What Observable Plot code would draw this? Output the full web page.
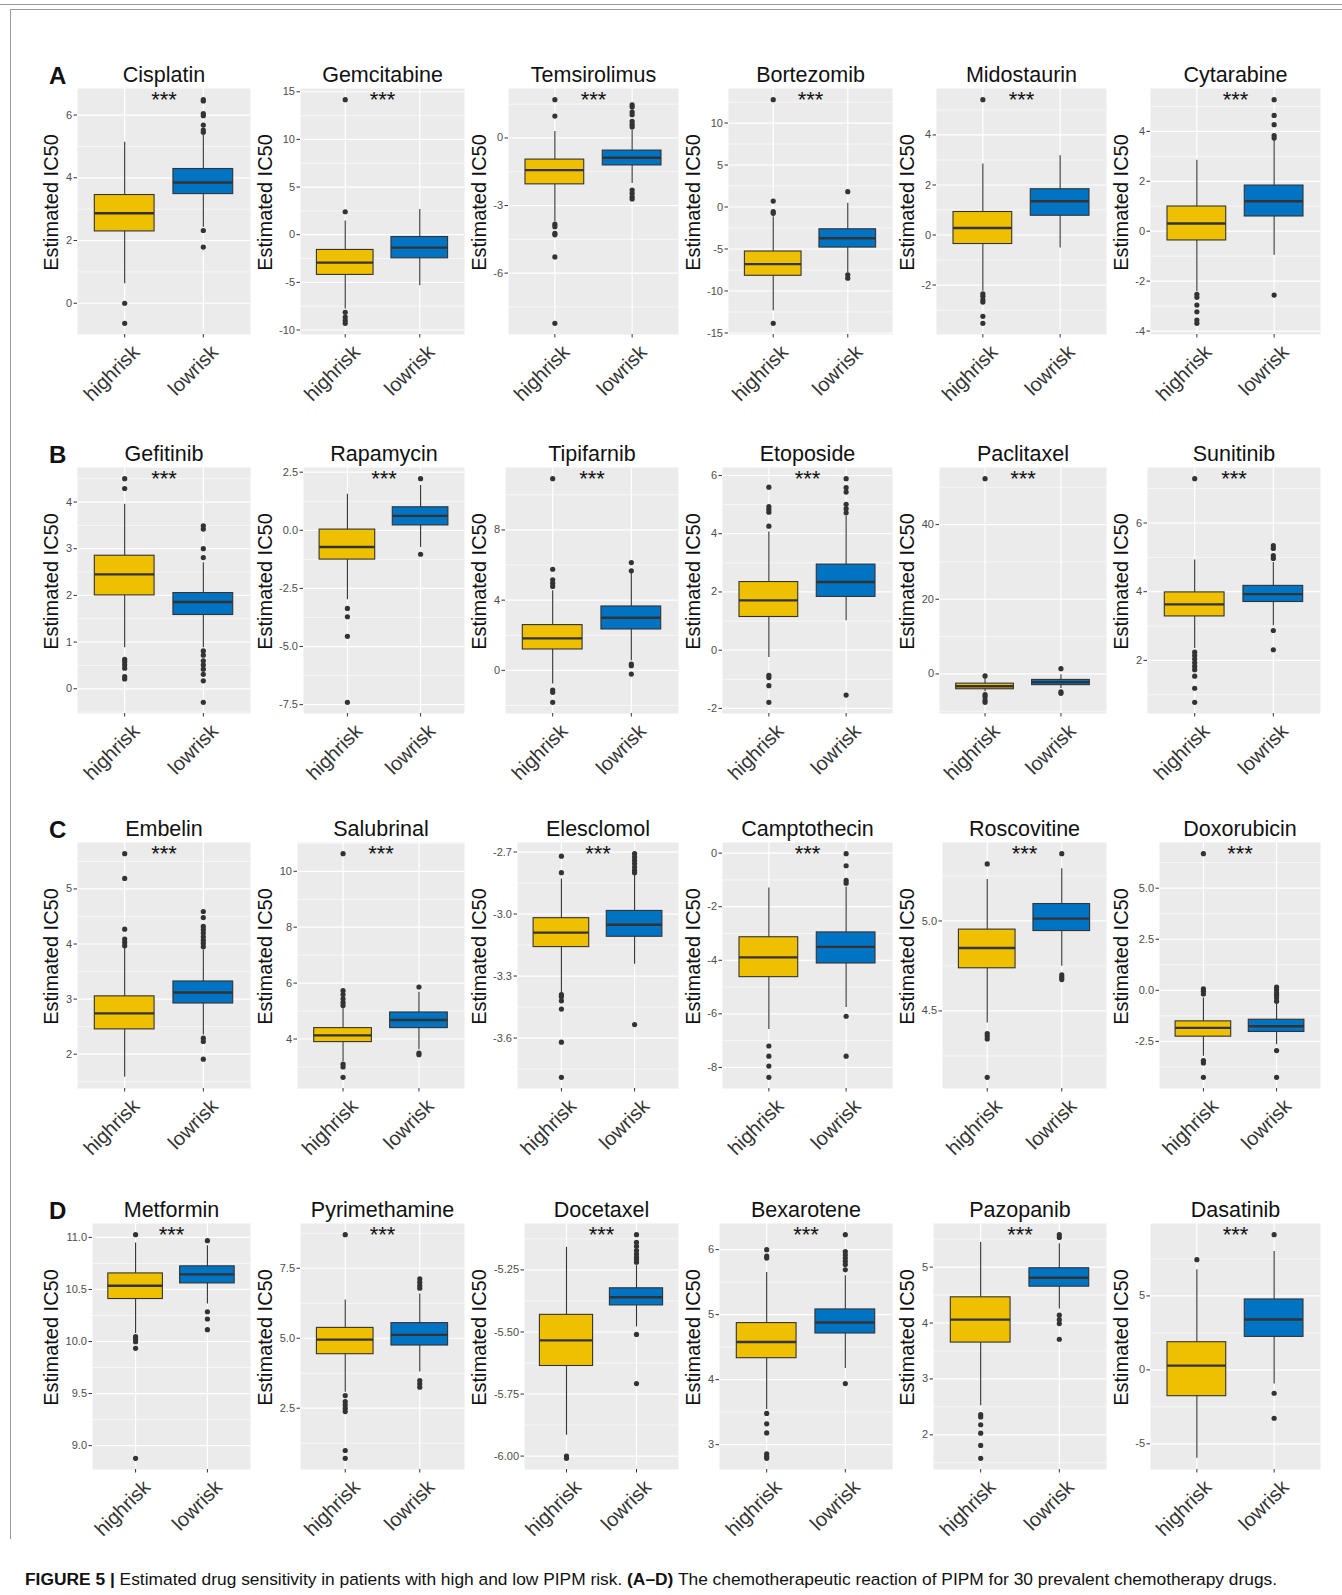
<!DOCTYPE html>
<html><head><meta charset="utf-8">
<script src="https://cdn.jsdelivr.net/npm/d3@7"></script>
<script src="https://cdn.jsdelivr.net/npm/@observablehq/plot@0.6"></script>
<style>
html,body{margin:0;padding:0;background:#fff;}
#root{position:relative;width:1342px;height:1595px;overflow:hidden;font-family:"Liberation Sans",Arial,sans-serif;}
.panel{position:absolute;}
.letter{position:absolute;font-weight:bold;font-size:24px;line-height:1;color:#111;}
#caption{position:absolute;left:25px;top:1569px;font-size:17px;line-height:1.2;white-space:nowrap;color:#111;}
.rule{position:absolute;background:#9a9a9a;}
</style></head><body><div id="root"></div>
<script>
// ---------------- data ----------------
const groups = ["highrisk", "lowrisk"];
const panelLetters = ["A", "B", "C", "D"];
const signif = "***";
const yTitle = "Estimated IC50";
const drugs = ["Cisplatin","Gemcitabine","Temsirolimus","Bortezomib","Midostaurin","Cytarabine",
  "Gefitinib","Rapamycin","Tipifarnib","Etoposide","Paclitaxel","Sunitinib",
  "Embelin","Salubrinal","Elesclomol","Camptothecin","Roscovitine","Doxorubicin",
  "Metformin","Pyrimethamine","Docetaxel","Bexarotene","Pazopanib","Dasatinib"];
// [lower whisker, Q1, median, Q3, upper whisker]
const hiBox = [
  [0.62,2.29,2.87,3.45,5.13],[-7.8,-4.22,-2.93,-1.6,1.43],[-3.72,-2.06,-1.43,-0.96,0.29],
  [-12.34,-8.19,-6.8,-5.3,-1.15],[-2.25,-0.36,0.28,0.92,2.84],[-2.43,-0.37,0.31,0.99,2.84],
  [0.88,2.0,2.45,2.85,3.95],[-2.99,-1.26,-0.72,0.03,1.55],[-0.78,1.19,1.82,2.58,4.53],
  [-0.25,1.14,1.71,2.34,4.06],[-4.8,-4.1,-3.3,-2.6,-0.8],[2.35,3.28,3.63,3.98,4.92],
  [1.58,2.45,2.74,3.05,3.92],[3.2,3.89,4.13,4.39,5.11],[-3.38,-3.16,-3.09,-3.02,-2.83],
  [-6.58,-4.63,-3.89,-3.14,-1.3],[4.433,4.737,4.85,4.952,5.23],[-3.23,-2.27,-1.84,-1.52,-0.38],
  [10.078,10.408,10.536,10.654,10.946],[3.07,4.43,4.95,5.37,6.37],[-5.916,-5.637,-5.534,-5.431,-5.159],
  [3.54,4.33,4.58,4.87,5.65],[2.52,3.65,4.06,4.46,5.44],[-5.98,-1.78,0.29,1.87,6.77]];
const loBox = [
  [2.42,3.48,3.85,4.28,5.35],[-5.37,-2.48,-1.36,-0.24,2.65],[-2.02,-1.22,-0.88,-0.56,0.34],
  [-7.87,-4.83,-3.72,-2.65,0.44],[-0.52,0.77,1.35,1.83,3.17],[-0.96,0.59,1.2,1.83,3.64],
  [0.88,1.58,1.86,2.05,2.7],[-0.74,0.21,0.62,0.99,1.93],[0.55,2.33,3.0,3.64,5.57],
  [1.01,1.83,2.34,2.94,4.61],[-3.9,-3.0,-2.2,-1.6,-0.2],[3.01,3.7,3.93,4.17,4.85],
  [2.35,2.92,3.12,3.32,3.89],[3.62,4.39,4.68,4.95,5.67],[-3.243,-3.11,-3.052,-2.985,-2.805],
  [-5.76,-4.12,-3.5,-2.96,-1.27],[4.748,4.944,5.013,5.094,5.29],[-2.66,-2.04,-1.76,-1.44,-0.7],
  [10.36,10.558,10.645,10.722,10.92],[3.79,4.74,5.12,5.54,6.58],[-5.48,-5.393,-5.36,-5.324,-5.233],
  [4.17,4.71,4.88,5.08,5.6],[4.25,4.65,4.81,4.98,5.42],[-0.95,2.23,3.41,4.76,8.01]];
const hiOut = [
  [0,-0.64],[2.41,14.17,-8.15,-8.65,-9.0,-9.3],[1.70,0.97,-3.83,-3.94,-4.23,-4.3,-5.28,-8.23],
  [12.78,0.71,-0.55,-0.75,-13.85],[5.41,-2.35,-2.45,-2.59,-2.68,-3.25,-3.53],[-2.53,-2.65,-2.96,-3.23,-3.56,-3.69],
  [4.5,4.29,0.63,0.58,0.51,0.44,0.26,0.21],[-3.36,-3.72,-4.56,-7.4],[10.92,5.76,5.16,4.97,4.78,-1.12,-1.25,-1.82],
  [5.6,4.93,4.83,4.74,4.26,-0.86,-0.94,-1.22,-1.79],[52.3,-0.53,-5.5,-6.1,-7.0,-7.6],[7.29,2.24,2.14,2.04,1.93,1.83,1.73,1.54,1.19,0.78],
  [5.64,5.19,4.27,4.09,4.03,3.97],[10.63,5.73,5.59,5.44,5.31,5.2,3.1,3.0,2.63],[-2.72,-2.80,-3.39,-3.40,-3.42,-3.46,-3.62,-3.79],
  [-7.2,-7.58,-7.95,-8.37],[5.317,4.374,4.36,4.344,4.131],[6.69,0.07,-0.05,-0.18,-3.44,-3.56,-4.26],
  [11.026,10.046,10.024,9.998,9.934,8.878],[8.70,2.95,2.74,2.62,2.5,2.38,0.99,0.71],[-6.0,-6.009],
  [6.0,5.9,5.87,3.48,3.32,3.18,2.86,2.82,2.79],[2.36,2.32,2.18,2.03,1.81,1.58],[7.45]];
const loOut = [
  [5.45,5.52,5.68,5.98,6.05,6.45,6.49,2.32,1.79],[],[1.47,1.37,1.15,1.03,0.74,0.6,0.49,-2.31,-2.46,-2.61,-2.71],
  [1.82,-8.07,-8.47],[],[5.27,4.64,4.27,3.83,3.73,-2.56],
  [3.49,3.42,3.0,2.81,0.81,0.72,0.6,0.51,0.42,0.31,0.17,-0.29],[2.22,-1.03],[6.14,5.67,0.36,0.27,-0.21],
  [5.89,5.58,5.43,5.01,4.86,4.72,-1.54],[1.42,-4.8,-5.2],[5.34,5.26,5.05,4.97,2.87,2.31],
  [4.59,4.48,4.32,4.26,4.2,4.13,4.07,4.01,3.95,2.29,2.23,1.91],[5.86,3.5,3.44],[-2.708,-2.724,-2.74,-2.756,-2.773,-2.789,-2.80,-3.535],
  [-0.02,-0.47,-1.02,-1.12,-6.09,-7.58],[5.374,4.70,4.687,4.674],[0.16,0.03,-0.13,-0.24,-0.38,-0.54,-2.95,-4.26],
  [10.968,10.286,10.216,10.114],[7.12,7.0,6.88,6.79,3.49,3.37,3.25],[-5.108,-5.139,-5.155,-5.172,-5.186,-5.199,-5.208,-5.219,-5.51,-5.708],
  [6.23,5.97,5.92,5.87,5.82,5.77,5.69,3.94],[5.58,5.53,4.14,4.06,3.99,3.71],[9.14,-1.58,-3.27]];
const tickLabels = [
  ["0","2","4","6"],["-10","-5","0","5","10","15"],["-6","-3","0"],
  ["-15","-10","-5","0","5","10"],["-2","0","2","4"],["-4","-2","0","2","4"],
  ["0","1","2","3","4"],["-7.5","-5.0","-2.5","0.0","2.5"],["0","4","8"],
  ["-2","0","2","4","6"],["0","20","40"],["2","4","6"],
  ["2","3","4","5"],["4","6","8","10"],["-3.6","-3.3","-3.0","-2.7"],
  ["-8","-6","-4","-2","0"],["4.5","5.0"],["-2.5","0.0","2.5","5.0"],
  ["9.0","9.5","10.0","10.5","11.0"],["2.5","5.0","7.5"],["-6.00","-5.75","-5.50","-5.25"],
  ["3","4","5","6"],["2","3","4","5"],["-5","0","5"]];
const caption = [
  ["FIGURE 5 |", true], [" Estimated drug sensitivity in patients with high and low PIPM risk. ", false],
  ["(A–D)", true], [" The chemotherapeutic reaction of PIPM for 30 prevalent chemotherapy drugs.", false]];

// ---------------- layout ----------------
const root = document.getElementById("root");
const W = 214, MT = 30, MB = 75, MR = 4, GRAY_H = 246, H = MT + GRAY_H + MB;
const grayTops = [88, 467, 842, 1223];
const colLeft = c => 40 + 214 * c;
const FONT = "'Liberation Sans', Arial, sans-serif";
const ctx = document.createElement("canvas").getContext("2d");
ctx.font = "11px 'Liberation Sans'";
const colors = ["#EFC000", "#0073C2"];

function panel(i) {
  const labels = tickLabels[i];
  const ticks = labels.map(Number);
  const labelOf = new Map(ticks.map((t, j) => [t, labels[j]]));
  const all = [...hiBox[i], ...loBox[i], ...hiOut[i], ...loOut[i]];
  const mn = d3.min(all), mx = d3.max(all), r = mx - mn;
  const domain = [mn - 0.05 * r, mx + 0.05 * r];
  const step = ticks[1] - ticks[0];
  const minor = [ticks[0] - step / 2, ...ticks.map(t => t + step / 2)].filter(v => v > domain[0] && v < domain[1]);
  const boxes = groups.map((g, k) => {
    const s = k ? loBox[i] : hiBox[i];
    return {g, x: k + 1, lo: s[0], q1: s[1], med: s[2], q3: s[3], hi: s[4]};
  });
  const outs = groups.flatMap((g, k) => (k ? loOut[i] : hiOut[i]).map(v => ({g, x: k + 1, v})));
  const ml = Math.round(30.5 + d3.max(labels, s => ctx.measureText(s).width));
  const half = 0.38;
  return Plot.plot({
    width: W, height: H, marginTop: MT, marginBottom: MB, marginLeft: ml, marginRight: MR,
    style: {fontFamily: FONT, background: "transparent", overflow: "visible"},
    x: {domain: [0.4, 2.6], axis: null},
    y: {domain, axis: null},
    color: {domain: groups, range: colors},
    marks: [
      Plot.frame({fill: "#EBEBEB", stroke: "none"}),
      Plot.gridY(minor, {stroke: "white", strokeOpacity: 1, strokeWidth: 0.6}),
      Plot.gridY(ticks, {stroke: "white", strokeOpacity: 1, strokeWidth: 1.2}),
      Plot.gridX([1, 2], {stroke: "white", strokeOpacity: 1, strokeWidth: 1.2}),
      Plot.axisY({ticks, tickFormat: d => labelOf.get(d), tickSize: 3.5, tickPadding: 2, fontSize: 11,
        fill: "#4D4D4D", stroke: "#333", label: null}),
      Plot.axisX({ticks: [1, 2], tickFormat: () => "", tickSize: 3.5, stroke: "#333", label: null}),
      Plot.ruleX(boxes, {x: "x", y1: "lo", y2: "hi", stroke: "#333", strokeWidth: 1.1}),
      Plot.rect(boxes, {x1: d => d.x - half, x2: d => d.x + half, y1: "q1", y2: "q3", fill: "g", stroke: "#333", strokeWidth: 1.1}),
      Plot.ruleY(boxes, {x1: d => d.x - half, x2: d => d.x + half, y: "med", stroke: "#333", strokeWidth: 2.4}),
      Plot.dot(outs, {x: "x", y: "v", r: 2.6, fill: "#333", stroke: "none"}),
      Plot.text([signif], {text: d => d, x: () => 1.5, frameAnchor: "top", lineAnchor: "middle", dy: 11, fontSize: 22, fill: "#111"}),
      Plot.text([drugs[i]], {text: d => d, frameAnchor: "top", lineAnchor: "middle", dy: -13, fontSize: 21.5, fill: "#111"}),
      Plot.text([yTitle], {text: d => d, frameAnchor: "left", rotate: -90, textAnchor: "middle", lineAnchor: "top",
        dx: -(ml - 3), dy: -9, fontSize: 20, fill: "#111"}),
      Plot.text(groups, {text: d => d, x: (d, k) => k + 1, frameAnchor: "bottom", rotate: -45, textAnchor: "end",
        lineAnchor: "top", dx: 6, dy: 9, fontSize: 20, fill: "#333"})
    ]
  });
}

drugs.forEach((d, i) => {
  const row = Math.floor(i / 6), col = i % 6;
  const div = document.createElement("div");
  div.className = "panel";
  div.style.left = colLeft(col) + "px";
  div.style.top = (grayTops[row] - MT) + "px";
  div.appendChild(panel(i));
  root.appendChild(div);
});

panelLetters.forEach((L, r) => {
  const el = document.createElement("div");
  el.className = "letter";
  el.textContent = L;
  el.style.left = "49px";
  el.style.top = (grayTops[r] - 24) + "px";
  root.appendChild(el);
});

// frame rules
[[0, 4, 1342, 1], [10, 9, 1332, 1], [10, 9, 1, 1530]].forEach(([x, y, w, h]) => {
  const el = document.createElement("div");
  el.className = "rule";
  Object.assign(el.style, {left: x + "px", top: y + "px", width: w + "px", height: h + "px"});
  root.appendChild(el);
});

const cap = document.createElement("div");
cap.id = "caption";
caption.forEach(([t, b]) => {
  const s = document.createElement("span");
  s.textContent = t;
  if (b) s.style.fontWeight = "bold";
  cap.appendChild(s);
});
root.appendChild(cap);
const capW = cap.getBoundingClientRect().width;
cap.style.fontSize = (17 * 1252 / capW).toFixed(2) + "px";
</script></body></html>
